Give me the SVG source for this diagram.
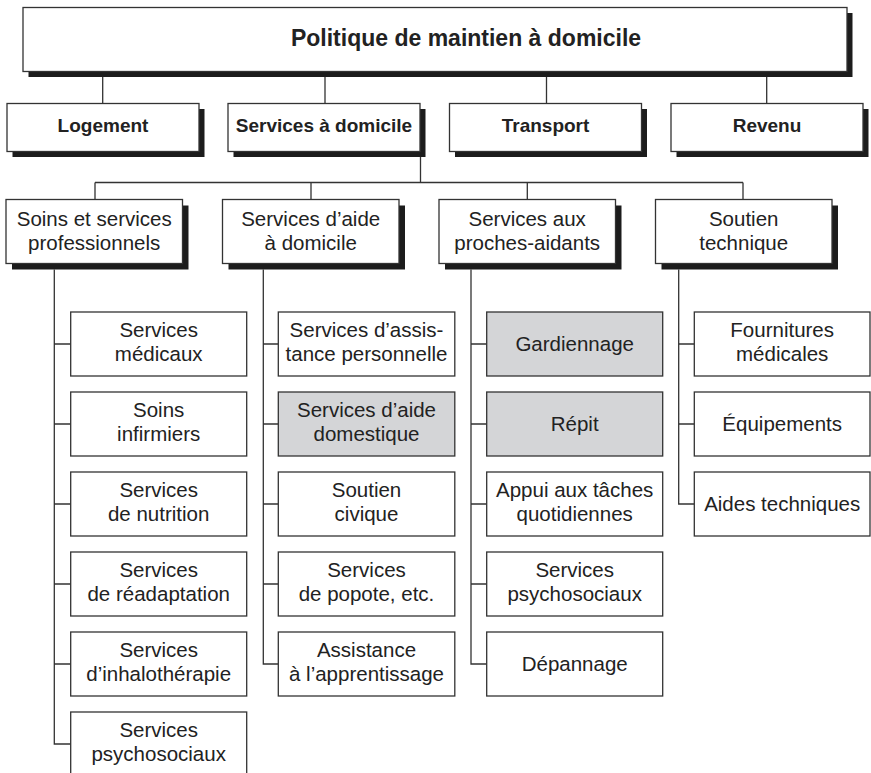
<svg xmlns="http://www.w3.org/2000/svg" width="871" height="773" viewBox="0 0 871 773">
<style>
.bg{fill:#ffffff}
.box{fill:#ffffff;stroke:#333333;stroke-width:1.3}
.gray{fill:#d4d5d7}
.sh{fill:#1c1c1c}
.conn{stroke:#333333;stroke-width:1.3;fill:none}
text{font-family:"Liberation Sans",Arial,sans-serif;fill:#222222;text-anchor:middle}
.t0{font-size:23px;font-weight:bold}
.t1{font-size:19px;font-weight:bold}
.t2{font-size:20.5px}
</style>
<rect class="bg" x="0" y="0" width="871" height="773"/>
<g id="connectors">
  <path class="conn" d="M102.7,77 V103.5 M325,77 V103.5 M546.5,77 V103.5 M766.7,77 V103.5"/>
  <path class="conn" d="M420.5,157 V182.5 M95,182.5 H743 M95,182.5 V199.5 M311,182.5 V199.5 M527.3,182.5 V199.5 M743,182.5 V199.5"/>
  <path class="conn" d="M54.3,269.5 V744 H70.7 M54.3,344 H70.7 M54.3,424 H70.7 M54.3,504 H70.7 M54.3,584 H70.7 M54.3,664 H70.7"/>
  <path class="conn" d="M263.3,269.5 V664 H278.3 M263.3,344 H278.3 M263.3,424 H278.3 M263.3,504 H278.3 M263.3,584 H278.3"/>
  <path class="conn" d="M471,269.5 V664 H486.7 M471,344 H486.7 M471,424 H486.7 M471,504 H486.7 M471,584 H486.7"/>
  <path class="conn" d="M678.7,269.5 V504 H694.3 M678.7,344 H694.3 M678.7,424 H694.3"/>
</g>
<g id="n-politique">
  <rect class="sh" x="28.5" y="13" width="824" height="64"/>
  <rect class="box" x="23" y="7.5" width="824" height="64"/>
  <text class="t0" x="466" y="46">Politique de maintien à domicile</text>
</g>
<g id="n-logement">
  <rect class="sh" x="12.5" y="109" width="192" height="48"/>
  <rect class="box" x="7" y="103.5" width="192" height="48"/>
  <text class="t1" x="103" y="132">Logement</text>
</g>
<g id="n-services-domicile">
  <rect class="sh" x="233.5" y="109" width="192" height="48"/>
  <rect class="box" x="228" y="103.5" width="192" height="48"/>
  <text class="t1" x="324" y="132">Services à domicile</text>
</g>
<g id="n-transport">
  <rect class="sh" x="455" y="109" width="192" height="48"/>
  <rect class="box" x="449.5" y="103.5" width="192" height="48"/>
  <text class="t1" x="545.5" y="132">Transport</text>
</g>
<g id="n-revenu">
  <rect class="sh" x="676.5" y="109" width="192" height="48"/>
  <rect class="box" x="671" y="103.5" width="192" height="48"/>
  <text class="t1" x="767" y="132">Revenu</text>
</g>
<g id="n-soins-pro">
  <rect class="sh" x="12" y="205.5" width="176.5" height="64"/>
  <rect class="box" x="6" y="199.5" width="176.5" height="64"/>
  <text class="t2" x="94.2" y="225.5">Soins et services</text>
  <text class="t2" x="94.2" y="249.5">professionnels</text>
</g>
<g id="n-aide-domicile">
  <rect class="sh" x="228.5" y="205.5" width="176.5" height="64"/>
  <rect class="box" x="222.5" y="199.5" width="176.5" height="64"/>
  <text class="t2" x="310.7" y="225.5">Services d’aide</text>
  <text class="t2" x="310.7" y="249.5">à domicile</text>
</g>
<g id="n-proches-aidants">
  <rect class="sh" x="445" y="205.5" width="176.5" height="64"/>
  <rect class="box" x="439" y="199.5" width="176.5" height="64"/>
  <text class="t2" x="527.2" y="225.5">Services aux</text>
  <text class="t2" x="527.2" y="249.5">proches-aidants</text>
</g>
<g id="n-soutien-technique">
  <rect class="sh" x="661.5" y="205.5" width="176.5" height="64"/>
  <rect class="box" x="655.5" y="199.5" width="176.5" height="64"/>
  <text class="t2" x="743.7" y="225.5">Soutien</text>
  <text class="t2" x="743.7" y="249.5">technique</text>
</g>
<!-- column 1 -->
<g id="n-medicaux">
  <rect class="box" x="70.7" y="312" width="176" height="64"/>
  <text class="t2" x="158.7" y="337">Services</text>
  <text class="t2" x="158.7" y="361">médicaux</text>
</g>
<g id="n-infirmiers">
  <rect class="box" x="70.7" y="392" width="176" height="64"/>
  <text class="t2" x="158.7" y="417">Soins</text>
  <text class="t2" x="158.7" y="441">infirmiers</text>
</g>
<g id="n-nutrition">
  <rect class="box" x="70.7" y="472" width="176" height="64"/>
  <text class="t2" x="158.7" y="497">Services</text>
  <text class="t2" x="158.7" y="521">de nutrition</text>
</g>
<g id="n-readaptation">
  <rect class="box" x="70.7" y="552" width="176" height="64"/>
  <text class="t2" x="158.7" y="577">Services</text>
  <text class="t2" x="158.7" y="601">de réadaptation</text>
</g>
<g id="n-inhalotherapie">
  <rect class="box" x="70.7" y="632" width="176" height="64"/>
  <text class="t2" x="158.7" y="657">Services</text>
  <text class="t2" x="158.7" y="681">d’inhalothérapie</text>
</g>
<g id="n-psychosociaux-1">
  <rect class="box" x="70.7" y="712" width="176" height="64"/>
  <text class="t2" x="158.7" y="737">Services</text>
  <text class="t2" x="158.7" y="761">psychosociaux</text>
</g>
<!-- column 2 -->
<g id="n-assistance-perso">
  <rect class="box" x="278.3" y="312" width="176.5" height="64"/>
  <text class="t2" x="366.5" y="337">Services d’assis-</text>
  <text class="t2" x="366.5" y="361">tance personnelle</text>
</g>
<g id="n-aide-domestique">
  <rect class="box gray" x="278.3" y="392" width="176.5" height="64"/>
  <text class="t2" x="366.5" y="417">Services d’aide</text>
  <text class="t2" x="366.5" y="441">domestique</text>
</g>
<g id="n-soutien-civique">
  <rect class="box" x="278.3" y="472" width="176.5" height="64"/>
  <text class="t2" x="366.5" y="497">Soutien</text>
  <text class="t2" x="366.5" y="521">civique</text>
</g>
<g id="n-popote">
  <rect class="box" x="278.3" y="552" width="176.5" height="64"/>
  <text class="t2" x="366.5" y="577">Services</text>
  <text class="t2" x="366.5" y="601">de popote, etc.</text>
</g>
<g id="n-apprentissage">
  <rect class="box" x="278.3" y="632" width="176.5" height="64"/>
  <text class="t2" x="366.5" y="657">Assistance</text>
  <text class="t2" x="366.5" y="681">à l’apprentissage</text>
</g>
<!-- column 3 -->
<g id="n-gardiennage">
  <rect class="box gray" x="486.7" y="312" width="176" height="64"/>
  <text class="t2" x="574.7" y="350.5">Gardiennage</text>
</g>
<g id="n-repit">
  <rect class="box gray" x="486.7" y="392" width="176" height="64"/>
  <text class="t2" x="574.7" y="430.5">Répit</text>
</g>
<g id="n-appui">
  <rect class="box" x="486.7" y="472" width="176" height="64"/>
  <text class="t2" x="574.7" y="497">Appui aux tâches</text>
  <text class="t2" x="574.7" y="521">quotidiennes</text>
</g>
<g id="n-psychosociaux-2">
  <rect class="box" x="486.7" y="552" width="176" height="64"/>
  <text class="t2" x="574.7" y="577">Services</text>
  <text class="t2" x="574.7" y="601">psychosociaux</text>
</g>
<g id="n-depannage">
  <rect class="box" x="486.7" y="632" width="176" height="64"/>
  <text class="t2" x="574.7" y="670.5">Dépannage</text>
</g>
<!-- column 4 -->
<g id="n-fournitures">
  <rect class="box" x="694.3" y="312" width="175.7" height="64"/>
  <text class="t2" x="782.2" y="337">Fournitures</text>
  <text class="t2" x="782.2" y="361">médicales</text>
</g>
<g id="n-equipements">
  <rect class="box" x="694.3" y="392" width="175.7" height="64"/>
  <text class="t2" x="782.2" y="430.5">Équipements</text>
</g>
<g id="n-aides-techniques">
  <rect class="box" x="694.3" y="472" width="175.7" height="64"/>
  <text class="t2" x="782.2" y="510.5">Aides techniques</text>
</g>
</svg>
